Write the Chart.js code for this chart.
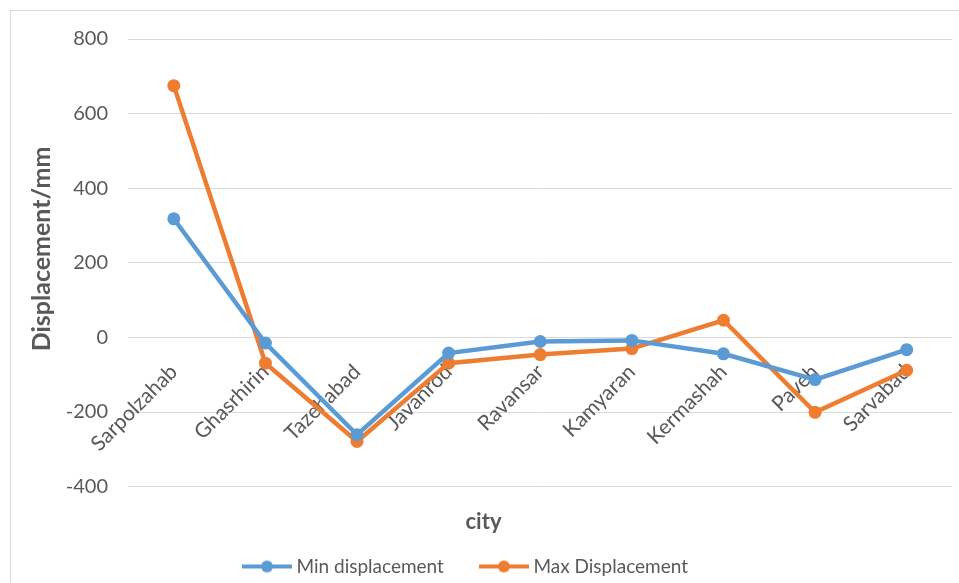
<!DOCTYPE html>
<html>
<head>
<meta charset="utf-8">
<script src="https://cdn.jsdelivr.net/npm/chart.js@4/dist/chart.umd.min.js"></script>
<style>
  html, body { margin: 0; padding: 0; background: #ffffff; }
  #wrap { width: 959px; height: 583px; position: relative; }
</style>
</head>
<body>
<div id="wrap"><canvas id="chart" width="959" height="583"></canvas></div>
<script>
// Displacement per city (mm)
const cities = ['Sarpolzahab', 'Ghasrhirin', 'Tazehabad', 'Javanrod', 'Ravansar', 'Kamyaran', 'Kermashah', 'Paveh', 'Sarvabad'];
const minDisplacement = [318, -15, -261, -42, -11, -8, -44, -113, -33];
const maxDisplacement = [675, -69, -279, -69, -46, -30, 46, -201, -88];
const yTicks = [-400, -200, 0, 200, 400, 600, 800];
const yAxisTitle = 'Displacement/mm';
const xAxisTitle = 'city';

const BLUE = '#5B9BD5';
const ORANGE = '#ED7D31';
const TEXT = '#595959';
const GRID = '#D9D9D9';
const FONT = "Lato, 'Open Sans', sans-serif";

Chart.defaults.font.family = FONT;
Chart.defaults.color = TEXT;

// Legend symbol: short line with a dot in the middle, drawn on the right
// part of a wider transparent canvas so the text sits close to it
function lineMarker(color) {
  const c = document.createElement('canvas');
  c.width = 90; c.height = 14;
  const g = c.getContext('2d');
  g.strokeStyle = color; g.lineWidth = 4;
  g.beginPath(); g.moveTo(35, 7); g.lineTo(85, 7); g.stroke();
  g.fillStyle = color;
  g.beginPath(); g.arc(60, 7, 6, 0, Math.PI * 2); g.fill();
  return c;
}

// Thin frame around the whole chart
const frame = {
  id: 'frame',
  beforeDraw(chart) {
    const ctx = chart.ctx;
    ctx.save();
    ctx.strokeStyle = GRID;
    ctx.lineWidth = 1;
    ctx.strokeRect(10.5, 10.5, 970, 600);
    ctx.restore();
  }
};

// Vertical axis title, placed beside the value labels
const yTitle = {
  id: 'yTitle',
  afterDraw(chart) {
    const ctx = chart.ctx;
    ctx.save();
    ctx.translate(42, 249);
    ctx.rotate(-Math.PI / 2);
    ctx.font = 'bold 25px ' + FONT;
    ctx.fillStyle = TEXT;
    ctx.textAlign = 'center';
    ctx.textBaseline = 'middle';
    ctx.fillText(yAxisTitle, 0, 0);
    ctx.restore();
  }
};

// Nudge the legend row a little to the left
const legendShift = {
  id: 'legendShift',
  afterLayout(chart) {
    const l = chart.legend;
    if (l) { l.left -= 31; l.right -= 31; }
  }
};

const series = [
  { label: 'Min displacement', data: minDisplacement, color: BLUE },
  { label: 'Max Displacement', data: maxDisplacement, color: ORANGE }
];

new Chart(document.getElementById('chart'), {
  type: 'line',
  data: {
    labels: cities,
    datasets: series.map(s => ({
      label: s.label,
      data: s.data,
      borderColor: s.color,
      backgroundColor: s.color,
      borderWidth: 4.5,
      pointRadius: 6.5,
      pointHoverRadius: 6.5,
      pointBorderWidth: 0,
      pointBackgroundColor: s.color,
      tension: 0,
      fill: false
    }))
  },
  options: {
    responsive: false,
    animation: false,
    layout: { padding: { left: 12, right: 4, top: 39, bottom: -3 } },
    plugins: {
      tooltip: { enabled: false },
      title: {
        display: true,
        text: xAxisTitle,
        position: 'bottom',
        color: TEXT,
        font: { size: 22, weight: 'bold' },
        padding: { top: 22, bottom: 12 }
      },
      legend: {
        position: 'bottom',
        weight: 3000,
        labels: {
          color: TEXT,
          font: { size: 19 },
          usePointStyle: true,
          pointStyleWidth: 70,
          padding: 10,
          generateLabels(chart) {
            return series.map((s, i) => ({
              text: s.label,
              fillStyle: s.color,
              strokeStyle: s.color,
              lineWidth: 0,
              pointStyle: lineMarker(s.color),
              datasetIndex: i,
              hidden: false,
              fontColor: TEXT
            }));
          }
        }
      }
    },
    scales: {
      x: {
        type: 'category',
        offset: true,
        position: { y: 0 },
        grid: { display: false, drawTicks: false },
        border: { display: false },
        ticks: {
          color: TEXT,
          font: { size: 21 },
          minRotation: 45,
          maxRotation: 45,
          autoSkip: false,
          padding: 22
        }
      },
      y: {
        min: -400,
        max: 800,
        afterBuildTicks(scale) { scale.ticks = yTicks.map(v => ({ value: v })); },
        afterFit(scale) { scale.width = 116; },
        grid: { color: GRID, lineWidth: 1, drawTicks: false },
        border: { display: false },
        ticks: { color: TEXT, font: { size: 20 }, padding: 20 }
      }
    }
  },
  plugins: [frame, yTitle, legendShift]
});
</script>
</body>
</html>
